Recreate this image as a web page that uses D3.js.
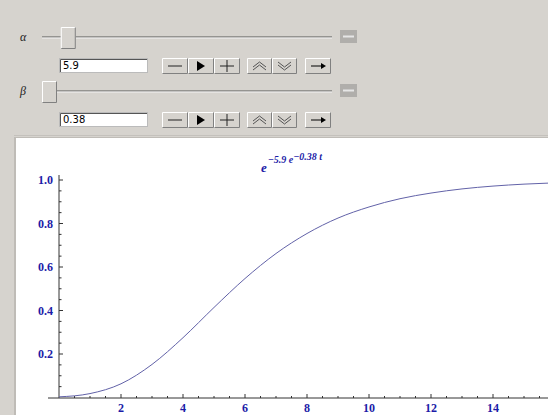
<!DOCTYPE html>
<html><head><meta charset="utf-8">
<script src="https://cdn.jsdelivr.net/npm/d3@7"></script>
<style>html,body{margin:0;padding:0;background:#d6d3ce;overflow:hidden}</style>
</head><body>
<svg id="c" width="548" height="415"></svg>
<script>
// Data
const tValues = [0,1,2,3,4,5,6,7,8,9,10,11,12,13,14,15,16];
const fValues = [0.003,0.018,0.063,0.152,0.275,0.414,0.547,0.662,0.754,0.825,0.876,0.914,0.940,0.959,0.972,0.981,0.987];
const xTickLabels = [2,4,6,8,10,12,14];
const yTickLabels = [0.2,0.4,0.6,0.8,1.0];
const sliderLabels = ["α","β"];
const sliderValues = ["5.9","0.38"];
const sliderFrac = [0.068, 0.0];

const svg = d3.select("#c");
const bg = "#d6d3ce";

function raised(g, x, y, w, h){
  g.append("rect").attr("x",x).attr("y",y).attr("width",w).attr("height",h).attr("fill",bg);
  g.append("path").attr("d",`M${x+0.5},${y+h-0.5}V${y+0.5}H${x+w-0.5}`).attr("stroke","#fff").attr("fill","none");
  g.append("path").attr("d",`M${x+0.5},${y+h-0.5}H${x+w-0.5}V${y+0.5}`).attr("stroke","#808080").attr("fill","none");
}

// Controls
const rowsY = [37, 91];
rowsY.forEach((ly,i)=>{
  const g = svg.append("g");
  g.append("text").attr("x",20).attr("y",ly+4).attr("font-family","Liberation Serif").attr("font-style","italic")
    .attr("font-size",12).attr("fill","#222").text(sliderLabels[i]);
  g.append("line").attr("x1",42).attr("x2",332).attr("y1",ly).attr("y2",ly).attr("stroke","#555");
  g.append("line").attr("x1",42).attr("x2",332).attr("y1",ly+1).attr("y2",ly+1).attr("stroke","#f4f4f4");
  const sx = d3.scaleLinear().domain([0,1]).range([42,318]);
  const tx = sx(sliderFrac[i]);
  raised(g, tx, ly-10, 15, 22);
  g.append("rect").attr("x",340).attr("y",ly-7).attr("width",17).attr("height",13).attr("fill","#b0aeab");
  g.append("line").attr("x1",343).attr("x2",354).attr("y1",ly-0.5).attr("y2",ly-0.5).attr("stroke","#e6e6e6").attr("stroke-width",2);
  const iy = ly + 21;
  g.append("rect").attr("x",59.5).attr("y",iy+0.5).attr("width",88).attr("height",14).attr("fill","#fff").attr("stroke","#bbb");
  g.append("path").attr("d",`M60.5,${iy+14}V${iy+1.5}H147`).attr("stroke","#555").attr("fill","none");
  g.append("text").attr("x",63).attr("y",iy+11).attr("font-family","DejaVu Sans").attr("font-size",10).attr("fill","#000").text(sliderValues[i]);
  const by = iy, bh = 16;
  const bx = [162,188,214,247,272,305];
  const bw = [26,26,26,25,25,26];
  bx.forEach((x,k)=>raised(g,x,by,bw[k],bh));
  const cy = by+8;
  g.append("line").attr("x1",168).attr("x2",182).attr("y1",cy).attr("y2",cy).attr("stroke","#222");
  g.append("path").attr("d",`M197,${cy-5}L205,${cy}L197,${cy+5}Z`).attr("fill","#000");
  g.append("line").attr("x1",220).attr("x2",234).attr("y1",cy).attr("y2",cy).attr("stroke","#222");
  g.append("line").attr("x1",227).attr("x2",227).attr("y1",cy-6).attr("y2",cy+6).attr("stroke","#222");
  g.append("path").attr("d",`M253,${cy+1}L259.5,${cy-4}L266,${cy+1}M253,${cy+4}L259.5,${cy-1}L266,${cy+4}`).attr("stroke","#555").attr("fill","none");
  g.append("path").attr("d",`M278,${cy-4}L284.5,${cy+1}L291,${cy-4}M278,${cy-1}L284.5,${cy+4}L291,${cy-1}`).attr("stroke","#555").attr("fill","none");
  g.append("line").attr("x1",311).attr("x2",323).attr("y1",cy).attr("y2",cy).attr("stroke","#000");
  g.append("path").attr("d",`M321,${cy-3}L326,${cy}L321,${cy+3}Z`).attr("fill","#000");
});

// Plot panel
svg.append("line").attr("x1",14).attr("x2",548).attr("y1",135.5).attr("y2",135.5).attr("stroke","#c4c1bc");
svg.append("rect").attr("x",14).attr("y",137).attr("width",534).attr("height",278).attr("fill","#bfbcb7");
svg.append("rect").attr("x",16).attr("y",138).attr("width",532).attr("height",277).attr("fill","#fff");

const x = d3.scaleLinear().domain([0,15]).range([59,524]);
const y = d3.scaleLinear().domain([0,1]).range([397.5,180]);
const blue = "#1c1ca8";
const axisCol = "#333";

const plot = svg.append("g");
plot.append("line").attr("x1",48).attr("x2",548).attr("y1",398).attr("y2",398).attr("stroke",axisCol);
const xMinor = d3.range(0.5, 16.01, 0.5);
xMinor.forEach(v=>{
  const major = Math.abs(v%2)<1e-9;
  plot.append("line").attr("x1",x(v)).attr("x2",x(v)).attr("y1",398).attr("y2",major?394:396).attr("stroke",axisCol);
});
plot.selectAll("text.xl").data(xTickLabels).join("text").attr("class","xl")
  .attr("x",d=>x(d)).attr("y",412).attr("text-anchor","middle")
  .attr("font-family","Liberation Serif").attr("font-weight","bold").attr("font-size",12).attr("fill",blue).text(d=>d);
plot.append("line").attr("x1",59).attr("x2",59).attr("y1",175).attr("y2",398).attr("stroke",axisCol);
d3.range(0.05, 1.001, 0.05).forEach(v=>{
  const major = Math.abs(Math.round(v*100)%20)<1e-6;
  plot.append("line").attr("x1",59).attr("x2",major?63:61.5).attr("y1",y(v)).attr("y2",y(v)).attr("stroke",axisCol);
});
plot.selectAll("text.yl").data(yTickLabels).join("text").attr("class","yl")
  .attr("x",53).attr("y",d=>y(d)+4).attr("text-anchor","end")
  .attr("font-family","Liberation Serif").attr("font-weight","bold").attr("font-size",12).attr("fill",blue).text(d=>d.toFixed(1));

svg.append("clipPath").attr("id","cp").append("rect").attr("x",16).attr("y",138).attr("width",532).attr("height",277);
const pts = tValues.map((t,i)=>[t,fValues[i]]);
svg.append("path").attr("clip-path","url(#cp)").datum(pts)
  .attr("d", d3.line().x(d=>x(d[0])).y(d=>y(d[1])).curve(d3.curveMonotoneX))
  .attr("fill","none").attr("stroke","#6262a8").attr("stroke-width",1);

const tt = svg.append("text").attr("x",261).attr("y",172).attr("font-family","Liberation Serif")
  .attr("font-weight","bold").attr("font-style","italic").attr("fill",blue);
tt.append("tspan").attr("font-size",13).text("e");
tt.append("tspan").attr("font-size",10).attr("dy",-9).attr("dx",1).text("−5.9 e");
tt.append("tspan").attr("font-size",10).attr("dy",-3).text("−0.38 t");
</script>
</body></html>
